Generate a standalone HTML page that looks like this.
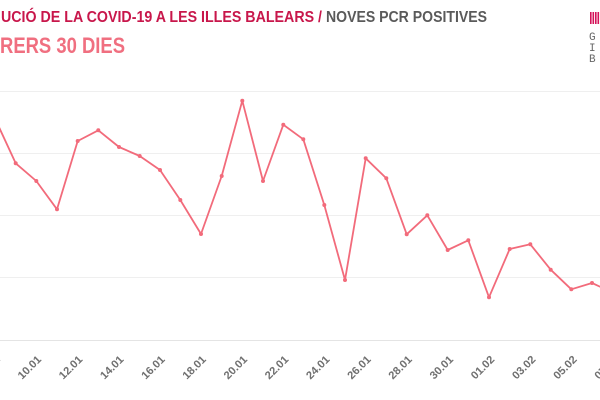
<!DOCTYPE html>
<html><head><meta charset="utf-8"><style>
html,body{margin:0;padding:0;background:#fff;}
svg{display:block;}
</style></head><body>
<svg width="600" height="400" viewBox="0 0 600 400" xmlns="http://www.w3.org/2000/svg" font-family="'Liberation Sans', sans-serif">
<rect width="600" height="400" fill="#fff"/>
<!-- title -->
<text x="1" y="22" font-size="16" font-weight="bold" fill="#c8174b" textLength="321" lengthAdjust="spacingAndGlyphs">UCIÓ DE LA COVID-19 A LES ILLES BALEARS /</text>
<text x="326" y="22" font-size="16" font-weight="bold" fill="#5a5a5a" textLength="161" lengthAdjust="spacingAndGlyphs">NOVES PCR POSITIVES</text>
<text x="0" y="53" font-size="22" font-weight="bold" fill="#f06f80" textLength="125" lengthAdjust="spacingAndGlyphs">RERS 30 DIES</text>
<!-- logo -->
<g fill="#d4145a">
<rect x="590" y="12" width="1.6" height="12"/>
<rect x="592.5" y="12" width="1.6" height="12"/>
<rect x="595" y="12" width="1.6" height="12"/>
<rect x="597.5" y="12" width="1.6" height="12"/>
</g>
<g font-family="'Liberation Mono', monospace" font-size="11" fill="#666">
<text x="589" y="40">G</text>
<text x="589" y="51">I</text>
<text x="589" y="62">B</text>
</g>
<!-- gridlines -->
<g stroke="#efefef" stroke-width="1">
<line x1="0" y1="91.5" x2="600" y2="91.5"/>
<line x1="0" y1="153.5" x2="600" y2="153.5"/>
<line x1="0" y1="215.5" x2="600" y2="215.5"/>
<line x1="0" y1="277.5" x2="600" y2="277.5"/>
</g>
<line x1="0" y1="340.5" x2="600" y2="340.5" stroke="#e4e4e4" stroke-width="1"/>
<!-- series -->
<polyline fill="none" stroke="#f26b7b" stroke-width="1.8" stroke-linejoin="round" points="-4.9,118.7 15.7,163.3 36.3,181 57,209.3 77.7,141 98.3,130.3 119,147 139.7,156 160,170 180.3,200 201,234 221.7,176 242.3,100.7 263,181 283.3,124.7 303.3,139.3 324.3,205 345,280 365.7,158.3 386.3,178.3 406.7,234.3 427.3,215.3 447.7,250 468.3,240.3 489,297.3 509.7,249 530.3,244.3 550.7,269.7 571.3,289.3 592,283 612.6,292.5"/>
<g fill="#f26b7b">
<circle cx="15.7" cy="163.3" r="2"/><circle cx="36.3" cy="181" r="2"/><circle cx="57" cy="209.3" r="2"/><circle cx="77.7" cy="141" r="2"/><circle cx="98.3" cy="130.3" r="2"/><circle cx="119" cy="147" r="2"/><circle cx="139.7" cy="156" r="2"/><circle cx="160" cy="170" r="2"/><circle cx="180.3" cy="200" r="2"/><circle cx="201" cy="234" r="2"/><circle cx="221.7" cy="176" r="2"/><circle cx="242.3" cy="100.7" r="2"/><circle cx="263" cy="181" r="2"/><circle cx="283.3" cy="124.7" r="2"/><circle cx="303.3" cy="139.3" r="2"/><circle cx="324.3" cy="205" r="2"/><circle cx="345" cy="280" r="2"/><circle cx="365.7" cy="158.3" r="2"/><circle cx="386.3" cy="178.3" r="2"/><circle cx="406.7" cy="234.3" r="2"/><circle cx="427.3" cy="215.3" r="2"/><circle cx="447.7" cy="250" r="2"/><circle cx="468.3" cy="240.3" r="2"/><circle cx="489" cy="297.3" r="2"/><circle cx="509.7" cy="249" r="2"/><circle cx="530.3" cy="244.3" r="2"/><circle cx="550.7" cy="269.7" r="2"/><circle cx="571.3" cy="289.3" r="2"/><circle cx="592" cy="283" r="2"/>
</g>
<!-- x labels -->
<g font-size="11" font-weight="bold" fill="#707070" text-anchor="middle">
<text transform="translate(-9.2,370) rotate(-45)" textLength="28" lengthAdjust="spacingAndGlyphs">08.01</text>
<text transform="translate(32,370) rotate(-45)" textLength="28" lengthAdjust="spacingAndGlyphs">10.01</text>
<text transform="translate(73.2,370) rotate(-45)" textLength="28" lengthAdjust="spacingAndGlyphs">12.01</text>
<text transform="translate(114.4,370) rotate(-45)" textLength="28" lengthAdjust="spacingAndGlyphs">14.01</text>
<text transform="translate(155.6,370) rotate(-45)" textLength="28" lengthAdjust="spacingAndGlyphs">16.01</text>
<text transform="translate(196.8,370) rotate(-45)" textLength="28" lengthAdjust="spacingAndGlyphs">18.01</text>
<text transform="translate(238,370) rotate(-45)" textLength="28" lengthAdjust="spacingAndGlyphs">20.01</text>
<text transform="translate(279.2,370) rotate(-45)" textLength="28" lengthAdjust="spacingAndGlyphs">22.01</text>
<text transform="translate(320.4,370) rotate(-45)" textLength="28" lengthAdjust="spacingAndGlyphs">24.01</text>
<text transform="translate(361.6,370) rotate(-45)" textLength="28" lengthAdjust="spacingAndGlyphs">26.01</text>
<text transform="translate(402.8,370) rotate(-45)" textLength="28" lengthAdjust="spacingAndGlyphs">28.01</text>
<text transform="translate(444,370) rotate(-45)" textLength="28" lengthAdjust="spacingAndGlyphs">30.01</text>
<text transform="translate(485.2,370) rotate(-45)" textLength="28" lengthAdjust="spacingAndGlyphs">01.02</text>
<text transform="translate(526.4,370) rotate(-45)" textLength="28" lengthAdjust="spacingAndGlyphs">03.02</text>
<text transform="translate(567.6,370) rotate(-45)" textLength="28" lengthAdjust="spacingAndGlyphs">05.02</text>
<text transform="translate(608.8,370) rotate(-45)" textLength="28" lengthAdjust="spacingAndGlyphs">07.02</text>
</g>
</svg>
</body></html>
